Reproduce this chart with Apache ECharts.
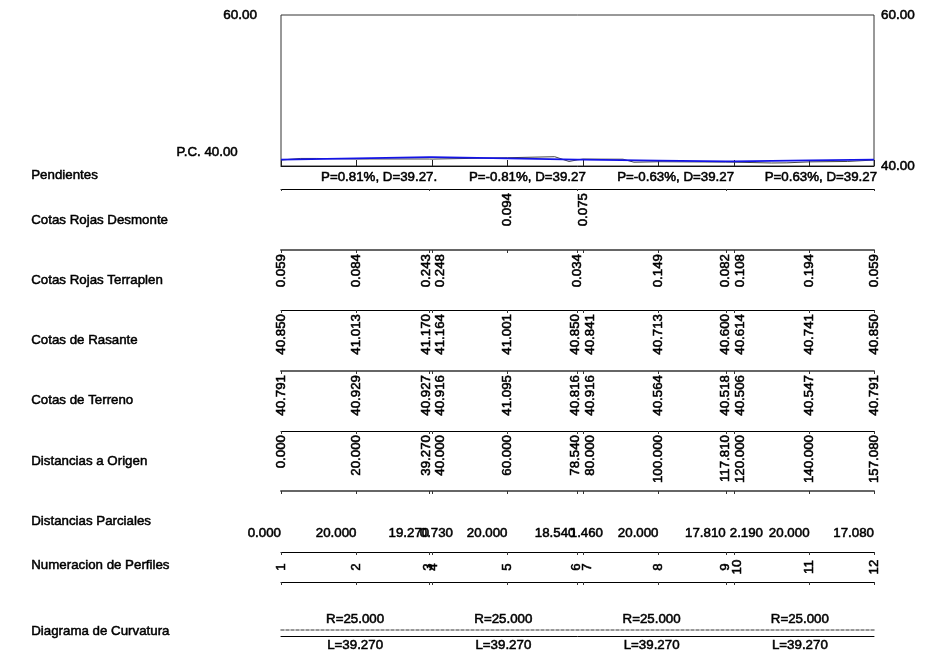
<!DOCTYPE html>
<html><head><meta charset="utf-8">
<style>html,body{margin:0;padding:0;background:#fff}#c{width:943px;height:653px}</style>
<script src="https://cdn.jsdelivr.net/npm/echarts@6/dist/echarts.min.js"></script>
</head><body><div id="c"></div>
<script>
// ---------- data ----------
const stations = [0,20,39.27,40,60,78.54,80,100,117.81,120,140,157.08];
const desmonte = [null,null,null,null,'0.094',null,'0.075',null,null,null,null,null];
const terraplen = ['0.059','0.084','0.243','0.248',null,'0.034',null,'0.149','0.082','0.108','0.194','0.059'];
const rasante = ['40.850','41.013','41.170','41.164','41.001','40.850','40.841','40.713','40.600','40.614','40.741','40.850'];
const terreno = ['40.791','40.929','40.927','40.916','41.095','40.816','40.916','40.564','40.518','40.506','40.547','40.791'];
const origen = ['0.000','20.000','39.270','40.000','60.000','78.540','80.000','100.000','117.810','120.000','140.000','157.080'];
const parciales = ['0.000','20.000','19.270','0.730','20.000','18.540','1.460','20.000','17.810','2.190','20.000','17.080'];
const perfiles = ['1','2','3','4','5','6','7','8','9','10','11','12'];
const terrainProfile = [[0,40.791],[5.2,41.0],[9.4,41.0],[20,40.929],[39.27,40.927],[40,40.916],[60,41.095],[72.5,41.23],[76.3,40.6],[78.54,40.816],[80,40.916],[90.6,40.9],[93.5,40.5],[100,40.564],[117.81,40.518],[120,40.506],[130,40.4],[134,40.42],[140,40.547],[150,40.6],[157.08,40.791]];
const curveBreaks = [0,39.27,78.54,117.81,157.08];
const slopeLabels = ['P=0.81%, D=39.27.','P=-0.81%, D=39.27','P=-0.63%, D=39.27','P=0.63%, D=39.27'];
const radiusLabels = ['R=25.000','R=25.000','R=25.000','R=25.000'];
const lengthLabels = ['L=39.270','L=39.270','L=39.270','L=39.270'];
const rowTitles = ['Pendientes','Cotas Rojas Desmonte','Cotas Rojas Terraplen','Cotas de Rasante','Cotas de Terreno','Distancias a Origen','Distancias Parciales','Numeracion de Perfiles','Diagrama de Curvatura'];

// ---------- layout ----------
const L = 281, R = 69, FONT = '"Liberation Sans", Arial, sans-serif';
const titleY = [176,221,281,341,401,462,522,566,632];
const rotNudge = [0,0,-3,8,0,-2,7,0,0,6,0,0];
const partner = {2:3,3:2,5:6,6:5,8:9,9:8};
const parNudge = [0,0,0,21,0,-2,20,0,0,29,0,0];
const numNudge = [0,0,-1,1,0,-1,4,0,0,3,0,0];
const slopeNudge = [24,24,24,21];
const mids = curveBreaks.slice(1).map((b,i)=>(b+curveBreaks[i])/2);

const grids=[{left:L,right:R,top:15,bottom:487,show:true,borderColor:'#333',borderWidth:1,backgroundColor:'#fff'}];
const xAxes=[{gridIndex:0,type:'value',min:0,max:157.08,interval:20,
  axisLine:{show:true,lineStyle:{color:'#111',width:1}},
  axisTick:{show:true,inside:true,length:6,lineStyle:{color:'#222'}},
  axisLabel:{show:false},splitLine:{show:false}}];
const axisTxt={color:'#000',fontFamily:FONT,fontSize:13.5,textBorderColor:'#000',textBorderWidth:0.55};
const yAxes=[
 {gridIndex:0,type:'value',min:40,max:60,interval:20,position:'left',splitLine:{show:false},axisLine:{show:false},axisTick:{show:false},
  axisLabel:Object.assign({},axisTxt,{margin:24,formatter:v=>v===60?v.toFixed(2):''})},
 {gridIndex:0,type:'value',min:40,max:60,interval:20,position:'right',splitLine:{show:false},axisLine:{show:false},axisTick:{show:false},
  axisLabel:Object.assign({},axisTxt,{margin:7,formatter:v=>v.toFixed(2)})}
];
const series=[
 {type:'line',xAxisIndex:0,yAxisIndex:0,data:terrainProfile,symbol:'none',lineStyle:{color:'#444',width:1},z:2,silent:true},
 {type:'line',xAxisIndex:0,yAxisIndex:0,data:stations.map((s,i)=>[s,+rasante[i]]),symbol:'none',lineStyle:{color:'#1414e6',width:1.7},z:3,silent:true}
];

function rule(y,ticks,opts){
  opts=opts||{};
  grids.push({left:L,right:R,top:y,height:1,show:false});
  const idx=grids.length-1;
  xAxes.push({gridIndex:idx,type:'value',position:'top',min:0,max:157.08,
    axisLine:{show:true,onZero:false,lineStyle:{color:opts.color||'#000',width:opts.width||1,type:opts.type||'solid'}},
    axisTick:ticks?{show:true,inside:true,length:opts.tick||3,customValues:ticks,lineStyle:{color:'#333'}}:{show:false},
    axisLabel:{show:false},splitLine:{show:false}});
  yAxes.push({gridIndex:idx,type:'value',min:0,max:1,show:false});
  return idx;
}
function texts(idx,items){
  series.push({type:'custom',xAxisIndex:idx,yAxisIndex:yAxes.length-1,silent:true,z:5,clip:false,
    encode:{x:0,y:1},
    data:items.map(it=>[it.x,1]),
    renderItem:(p,api)=>{
      const it=items[p.dataIndex],c=api.coord([api.value(0),1]);
      return {type:'text',x:c[0]+(it.dx||0),y:c[1]+(it.dy||0),rotation:it.rot?Math.PI/2:0,
        style:{text:it.t,fill:'#000',stroke:'#000',lineWidth:0.55,font:'13.3px '+FONT,align:it.align||'center',verticalAlign:'middle'}};
    }});
}
function rotItems(vals,dy){
  const out=[];
  vals.forEach((v,i)=>{ if(v==null) return;
    const paired=partner[i]!=null&&vals[partner[i]]!=null;
    out.push({x:stations[i],t:v,rot:true,align:'right',dy:dy,dx:paired?rotNudge[i]:0});});
  return out;
}
// slopes + desmonte share one rule
let g=rule(189,curveBreaks,{tick:2});
texts(g,slopeLabels.map((t,i)=>({x:mids[i],t:t,dy:-12,dx:slopeNudge[i]})).concat(rotItems(desmonte,4)));
g=rule(250,stations,{color:'#666',width:2}); texts(g,rotItems(terraplen,4));
g=rule(310,stations); texts(g,rotItems(rasante,4));
g=rule(371,stations,{color:'#666',width:2}); texts(g,rotItems(terreno,4));
g=rule(431,stations); texts(g,rotItems(origen,4));
g=rule(491,stations,{color:'#666',width:2});
texts(g,parciales.map((t,i)=>({x:stations[i],t:t,align:'right',dy:42,dx:parNudge[i]})));
g=rule(552,stations);
texts(g,perfiles.map((t,i)=>({x:stations[i],t:t,rot:true,dy:15,dx:numNudge[i]})));
g=rule(582,stations);
g=rule(630,null,{color:'#777',width:1.5,type:[3,2]});
texts(g,radiusLabels.map((t,i)=>({x:mids[i],t:t,dy:-11})));
g=rule(636,null);
texts(g,lengthLabels.map((t,i)=>({x:mids[i],t:t,dy:9})));

const graphics=rowTitles.map((t,i)=>({type:'text',left:31,top:titleY[i]-7,
  style:{text:t,fill:'#000',stroke:'#000',lineWidth:0.5,font:'13.3px '+FONT}}));
graphics.push({type:'text',right:943-238,top:146,style:{text:'P.C. 40.00',fill:'#000',stroke:'#000',lineWidth:0.55,font:'13.3px '+FONT}});

const chart=echarts.init(document.getElementById('c'),null,{renderer:'canvas'});
chart.setOption({animation:false,backgroundColor:'#fff',tooltip:{show:false},
  grid:grids,xAxis:xAxes,yAxis:yAxes,series:series,graphic:graphics});
</script></body></html>
